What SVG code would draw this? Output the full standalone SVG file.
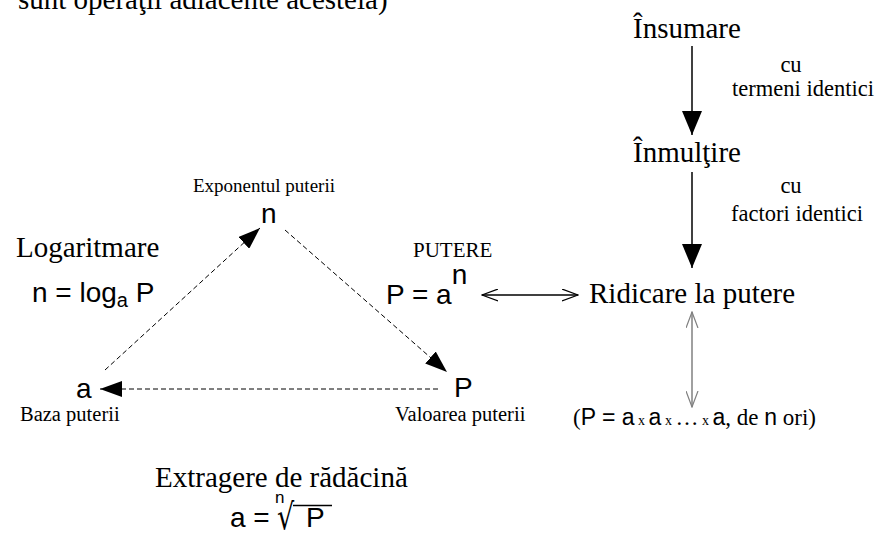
<svg xmlns="http://www.w3.org/2000/svg" width="880" height="548" viewBox="0 0 880 548">
<style>
.sf{font-family:"Liberation Serif","Times New Roman",serif;fill:#000}
.ss{font-family:"Liberation Sans",Arial,sans-serif;fill:#000}
.big{font-size:29px}
.lab{font-size:20.5px}
.mid{font-size:22.5px}
.m{font-size:28px}
.dash{fill:none;stroke:#000;stroke-width:1;stroke-dasharray:5,3}
.solid{fill:none;stroke:#000;stroke-width:1.5}
.gray{fill:none;stroke:#808080;stroke-width:1.5}
</style>
<defs>
<marker id="tri" viewBox="0 0 22 16" refX="22" refY="8" markerWidth="22" markerHeight="16" orient="auto" markerUnits="userSpaceOnUse"><path d="M0,0 L22,8 L0,16 z" fill="#000"/></marker>
<marker id="triBig" viewBox="0 0 24 20" refX="24" refY="10" markerWidth="24" markerHeight="20" orient="auto" markerUnits="userSpaceOnUse"><path d="M0,0 L24,10 L0,20 z" fill="#000"/></marker>
<marker id="open" viewBox="0 0 17 13" refX="16" refY="6.5" markerWidth="17" markerHeight="13" orient="auto-start-reverse" markerUnits="userSpaceOnUse"><path d="M0,0.5 L16,6.5 L0,12.5" fill="none" stroke="#000" stroke-width="1.2"/></marker>
<marker id="openG" viewBox="0 0 17 13" refX="16" refY="6.5" markerWidth="17" markerHeight="13" orient="auto-start-reverse" markerUnits="userSpaceOnUse"><path d="M0,0.5 L16,6.5 L0,12.5" fill="none" stroke="#808080" stroke-width="1.2"/></marker>
</defs>
<rect width="880" height="548" fill="#fff"/>
<text class="sf big" x="18" y="9">sunt operaţii adiacente acesteia)</text>

<g id="connectors">
<line class="solid" x1="692" y1="46" x2="692" y2="135" marker-end="url(#triBig)"/>
<line class="solid" x1="692" y1="172" x2="692" y2="268" marker-end="url(#triBig)"/>
<line class="solid" x1="482" y1="295" x2="578" y2="295" marker-start="url(#open)" marker-end="url(#open)"/>
<line class="gray" x1="692" y1="312" x2="692" y2="407" marker-start="url(#openG)" marker-end="url(#openG)"/>
<line class="dash" x1="105" y1="370" x2="260" y2="228" marker-end="url(#tri)"/>
<line class="dash" x1="285" y1="230" x2="447" y2="372" marker-end="url(#tri)"/>
<line class="dash" x1="438" y1="389" x2="100" y2="389" marker-end="url(#tri)"/>
</g>

<g id="insumare">
<text class="sf big" x="633" y="38">Însumare</text>
</g>
<g id="label-termeni">
<text class="sf mid" x="791" y="72" text-anchor="middle">cu</text>
<text class="sf mid" x="803" y="96" text-anchor="middle">termeni identici</text>
</g>
<g id="inmultire">
<text class="sf big" x="633" y="162">Înmulţire</text>
</g>
<g id="label-factori">
<text class="sf mid" x="791" y="193" text-anchor="middle">cu</text>
<text class="sf mid" x="797" y="221" text-anchor="middle">factori identici</text>
</g>
<g id="ridicare">
<text class="sf big" x="589" y="303">Ridicare la putere</text>
</g>
<g id="produs">
<text class="sf" font-size="23" x="573" y="425">(<tspan class="ss">P = a</tspan><tspan font-size="14"> x </tspan><tspan class="ss">a</tspan><tspan font-size="14"> x </tspan>…<tspan font-size="14"> x </tspan><tspan class="ss">a</tspan>, de <tspan class="ss">n</tspan> ori)</text>
</g>
<g id="putere">
<text class="sf" font-size="21" x="413" y="257">PUTERE</text>
<text class="ss m" x="386" y="304">P = a<tspan dy="-20">n</tspan></text>
</g>
<g id="exponent">
<text class="sf" font-size="19" x="193" y="192">Exponentul puterii</text>
<text class="ss m" x="261" y="223">n</text>
</g>
<g id="logaritmare">
<text class="sf big" x="16" y="257">Logaritmare</text>
<text class="ss m" x="32" y="302">n = log<tspan font-size="20" dy="5">a</tspan><tspan dy="-5"> P</tspan></text>
</g>
<g id="baza">
<text class="ss m" x="76" y="398">a</text>
<text class="sf lab" x="20" y="421">Baza puterii</text>
</g>
<g id="valoare">
<text class="ss m" x="454" y="397">P</text>
<text class="sf lab" x="395" y="421">Valoarea puterii</text>
</g>
<g id="radacina">
<text class="sf big" x="155" y="487">Extragere de rădăcină</text>
<text class="ss m" x="230" y="527">a = </text>
<text class="ss" font-size="17" x="275" y="503">n</text>
<text font-family="DejaVu Sans, sans-serif" font-size="30" transform="translate(277,529) scale(0.9,1.2)">√</text>
<line x1="293" y1="505.5" x2="332" y2="505.5" stroke="#000" stroke-width="1.5"/>
<text class="ss m" x="306" y="527">P</text>
</g>
</svg>
